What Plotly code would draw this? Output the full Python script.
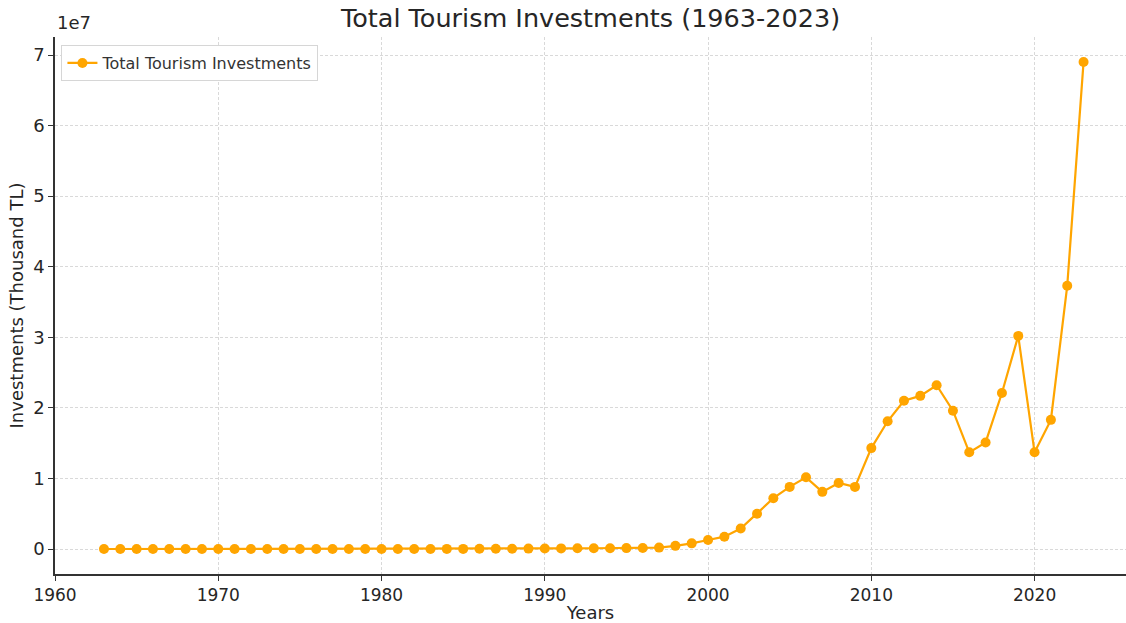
import plotly.graph_objects as go

years = list(range(1963, 2024))
investments = [
    120, 150, 180, 210, 250, 300, 350, 400, 450, 520,
    600, 700, 850, 1000, 1300, 1700, 2500, 4000, 6000, 8500,
    11000, 15000, 20000, 26000, 35000, 45000, 60000, 75000, 90000, 100000,
    110000, 120000, 130000, 150000, 200000, 450000, 800000, 1280000, 1750000, 2900000,
    5000000, 7200000, 8800000, 10160000, 8100000, 9350000, 8800000, 14300000, 18100000, 21000000,
    21700000, 23200000, 19600000, 13700000, 15100000, 22100000, 30200000, 13700000, 18300000, 37300000,
    69000000,
]
y_ticks = [0, 1e7, 2e7, 3e7, 4e7, 5e7, 6e7, 7e7]
y_tick_text = ["0", "1", "2", "3", "4", "5", "6", "7"]
x_ticks = [1960, 1970, 1980, 1990, 2000, 2010, 2020]

color = "#FFA500"
font = "DejaVu Sans, Arial, sans-serif"

fig = go.Figure()
fig.add_trace(go.Scatter(
    x=years, y=investments, mode="lines+markers",
    name="Total Tourism Investments",
    line=dict(color=color, width=2.2),
    marker=dict(color=color, size=10),
))

fig.update_layout(
    width=1126, height=623,
    margin=dict(l=55, r=0, t=37, b=49, autoexpand=False),
    paper_bgcolor="white", plot_bgcolor="white",
    font=dict(family=font, size=17, color="#262626"),
    title=dict(text="Total Tourism Investments (1963-2023)", x=0.5, xref="paper",
               xanchor="center", y=0.971, yanchor="middle", yref="container",
               font=dict(size=25.5, color="#262626")),
    showlegend=True,
    legend=dict(x=0.006, y=0.985, xanchor="left", yanchor="top",
                bordercolor="#d6d6d6", borderwidth=1, bgcolor="white",
                font=dict(size=16, color="#333333")),
    annotations=[dict(text="1e7", x=0, y=1.0, xref="paper", yref="paper",
                      xanchor="left", yanchor="bottom", showarrow=False,
                      font=dict(size=18, color="#262626"), yshift=2)],
)
fig.update_xaxes(
    range=[1960, 2025.6], tickvals=x_ticks, ticks="outside", ticklen=5,
    tickcolor="#333333", showline=True, linecolor="#333333", linewidth=1.5,
    showgrid=True, gridcolor="#d9d9d9", griddash="3px,2px", gridwidth=1,
    zeroline=False, tickfont=dict(size=17),
    title=dict(text="Years", font=dict(size=18), standoff=2),
)
fig.update_yaxes(
    range=[-0.354e7, 7.255e7], tickvals=y_ticks, ticktext=y_tick_text,
    ticks="outside", ticklen=5, tickcolor="#333333",
    showline=True, linecolor="#333333", linewidth=1.5,
    showgrid=True, gridcolor="#d9d9d9", griddash="3px,2px", gridwidth=1,
    zeroline=False, tickfont=dict(size=18),
    title=dict(text="Investments (Thousand TL)", font=dict(size=18), standoff=5),
)

fig.write_html("out.html", config={"displayModeBar": False},
               post_script="document.body.style.margin='0px';")
